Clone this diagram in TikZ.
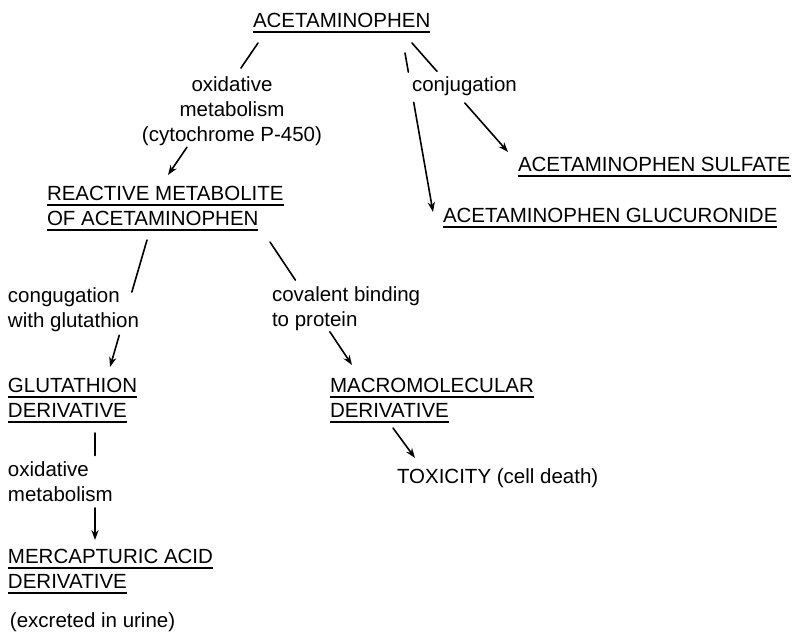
\documentclass[tikz,border=0pt]{standalone}
\usepackage{fontspec}
\setmainfont{Liberation Sans}
\usepackage{tikz}
\usetikzlibrary{calc, arrows.meta}
\newcommand{\uln}[1]{\setbox0=\hbox{#1}\rlap{\rule[-3pt]{\wd0}{0.9pt}}\box0}

\begin{document}
\begin{tikzpicture}[
			x=0.5pt, y=-0.5pt,
			txt/.style={
				inner sep=0pt, outer sep=0pt, align=left,
				font=\fontsize{10.25}{12.5}\selectfont
			},
			link/.style={line width=0.8pt, line cap=round},
			arrow/.style={link, -{Stealth[length=5pt, width=3.6pt]}}
			]
			\useasboundingbox (0,0) rectangle (803,634);
			
			% compounds (base = baseline of last line)
			\node[txt, anchor=base west] (acet) at (253,27) {\uln{ACETAMINOPHEN}};
			\node[txt, anchor=base west] (reactive) at (47,225)
			{\uln{REACTIVE METABOLITE}\\\uln{OF ACETAMINOPHEN}};
			\node[txt, anchor=base west] (sulfate) at (518,171) {\uln{ACETAMINOPHEN SULFATE}};
			\node[txt, anchor=base west] (glucur) at (443,222) {\uln{ACETAMINOPHEN GLUCURONIDE}};
			\node[txt, anchor=base west] (glut) at (8,417)
			{\uln{GLUTATHION}\\\uln{DERIVATIVE}};
			\node[txt, anchor=base west] (macro) at (330,417)
			{\uln{MACROMOLECULAR}\\\uln{DERIVATIVE}};
			\node[txt, anchor=base west] (mercap) at (8,588)
			{\uln{MERCAPTURIC ACID}\\\uln{DERIVATIVE}};
			\node[txt, anchor=base west] (tox) at (397,483) {TOXICITY (cell death)};
			\node[txt, anchor=base west] (urine) at (10,627) {(excreted in urine)};
			
			% reactions
			\node[txt, align=center, anchor=base] (oxmet) at (232,141)
			{oxidative\\metabolism\\(cytochrome P-450)};
			\node[txt, anchor=base west] (conj) at (412,91) {conjugation};
			\node[txt, anchor=base west] (congug) at (8,327)
			{congugation\\with glutathion};
			\node[txt, anchor=base west] (covbind) at (272,326)
			{covalent binding\\to protein};
			\node[txt, anchor=base west] (oxmet2) at (8,501)
			{oxidative\\metabolism};
			
			% line ends
			\coordinate (s1) at ([shift={(5,16)}]acet.base west);
			\coordinate (e1) at ([shift={(121,-50)}]reactive.base west);
			\coordinate (s2) at ([shift={(152,26)}]acet.base west);
			\coordinate (e2) at ([shift={(-10,-10)}]glucur.base west);
			\coordinate (s3) at ([shift={(159,16)}]acet.base west);
			\coordinate (e3) at ([shift={(-10,-19)}]sulfate.base west);
			\coordinate (s4) at ([shift={(100,15)}]reactive.base west);
			\coordinate (e4) at ([shift={(102,-50)}]glut.base west);
			\coordinate (s5) at ([shift={(223,17)}]reactive.base west);
			\coordinate (e5) at ([shift={(22,-52)}]macro.base west);
			\coordinate (s6) at ([shift={(87,16)}]glut.base west);
			\coordinate (e6) at ([shift={(87,-48)}]mercap.base west);
			\coordinate (s7) at ([shift={(63,11)}]macro.base west);
			\coordinate (e7) at ([shift={(18,-25)}]tox.base west);
			
			\draw[link] (s1) -- ($(s1)!0.19!(e1)$);
			\draw[arrow] ($(s1)!0.79!(e1)$) -- (e1);
			\draw[link] (s2) -- ($(s2)!0.12!(e2)$);
			\draw[arrow] ($(s2)!0.31!(e2)$) -- (e2);
			\draw[link] (s3) -- ($(s3)!0.26!(e3)$);
			\draw[arrow] ($(s3)!0.55!(e3)$) -- (e3);
			\draw[link] (s4) -- ($(s4)!0.41!(e4)$);
			\draw[arrow] ($(s4)!0.75!(e4)$) -- (e4);
			\draw[link] (s5) -- ($(s5)!0.31!(e5)$);
			\draw[arrow] ($(s5)!0.73!(e5)$) -- (e5);
			\draw[link] (s6) -- ($(s6)!0.21!(e6)$);
			\draw[arrow] ($(s6)!0.70!(e6)$) -- (e6);
			\draw[arrow] (s7) -- (e7);
			
		\end{tikzpicture}
\end{document}
